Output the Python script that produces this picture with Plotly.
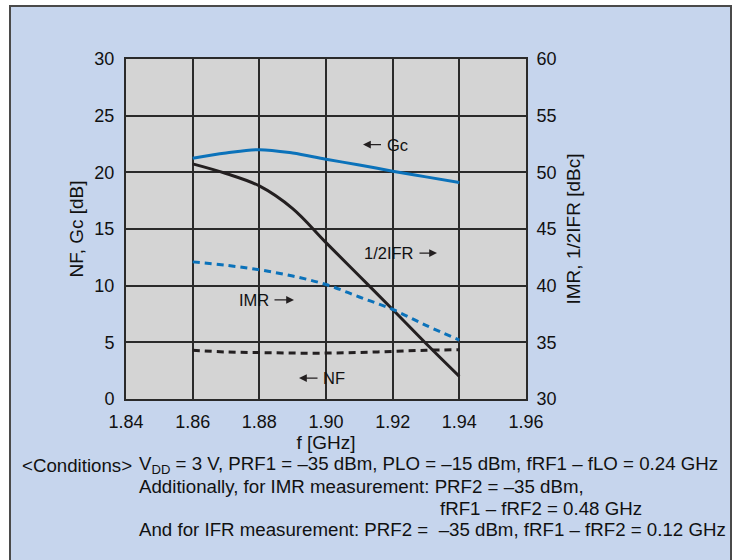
import plotly.graph_objects as go

freq = [1.86, 1.87, 1.88, 1.89, 1.90, 1.91, 1.92, 1.93, 1.94]
gc = [21.25, 21.7, 22.0, 21.7, 21.15, 20.65, 20.1, 19.6, 19.1]
nf = [4.3, 4.15, 4.1, 4.05, 4.05, 4.1, 4.2, 4.3, 4.35]
ifr_half = [50.75, 49.9, 48.8, 46.8, 43.8, 40.85, 37.9, 34.9, 32.0]
imr = [42.1, 41.8, 41.4, 40.85, 40.1, 39.0, 37.9, 36.5, 35.2]

x_ticks = [1.84, 1.86, 1.88, 1.90, 1.92, 1.94, 1.96]

BLUE = "#0B72BA"
BLACK = "#231F20"
GRID = "#2a2a2a"
BG = "#C6D5ED"
PLOTBG = "#D4D4D4"
FONT = "Liberation Sans, Arial, Helvetica, sans-serif"
TXT = "#111"

# plot area in pixels
L, R, T, B = 126, 526, 59, 399
W, H = 740, 560


def px(x):
    return (x - L) / (R - L)


def py(y):
    return (B - y) / (B - T)


fig = go.Figure()
fig.add_trace(go.Scatter(x=freq, y=gc, mode="lines", line=dict(color=BLUE, width=3, shape="spline"),
                         yaxis="y", showlegend=False))
fig.add_trace(go.Scatter(x=freq, y=nf, mode="lines", line=dict(color=BLACK, width=3, dash="7px,5px", shape="spline"),
                         yaxis="y", showlegend=False))
fig.add_trace(go.Scatter(x=freq, y=ifr_half, mode="lines", line=dict(color=BLACK, width=3, shape="spline"),
                         yaxis="y2", showlegend=False))
fig.add_trace(go.Scatter(x=freq, y=imr, mode="lines", line=dict(color=BLUE, width=3, dash="7px,5px", shape="spline"),
                         yaxis="y2", showlegend=False))

tick_font = dict(family=FONT, size=18, color=TXT)
title_font = dict(family=FONT, size=19, color=TXT)

fig.update_layout(
    width=W, height=H,
    margin=dict(l=L, r=W - R, t=T, b=H - B),
    paper_bgcolor=BG, plot_bgcolor=PLOTBG,
    font=dict(family=FONT, color=TXT),
    xaxis=dict(range=[1.84, 1.96], tickvals=x_ticks, ticktext=[f"{v:.2f}" for v in x_ticks],
               showgrid=True, gridcolor=GRID, gridwidth=1.5, zeroline=False,
               showline=True, linecolor=GRID, linewidth=2, mirror=True,
               ticks="outside", ticklen=5, tickcolor="rgba(0,0,0,0)", tickfont=tick_font,
               title=dict(text="f [GHz]", font=title_font, standoff=2)),
    yaxis=dict(range=[0, 30], dtick=5, showgrid=True, gridcolor=GRID, gridwidth=1.5, zeroline=False,
               showline=True, linecolor=GRID, linewidth=2, mirror=True,
               ticks="outside", ticklen=6, tickcolor="rgba(0,0,0,0)", tickfont=tick_font,
               title=dict(text="NF, Gc [dB]", font=title_font, standoff=6)),
    yaxis2=dict(range=[30, 60], dtick=5, overlaying="y", side="right", showgrid=False, zeroline=False,
                showline=False, ticks="outside", ticklen=6, tickcolor="rgba(0,0,0,0)", tickfont=tick_font,
                title=dict(text="IMR, 1/2IFR [dBc]", font=title_font, standoff=11)),
)

# frame around figure (white outside strips + border)
shapes = [
    dict(type="rect", xref="paper", yref="paper", x0=px(-5), x1=px(10), y0=py(570), y1=py(-5),
         fillcolor="white", line=dict(width=0), layer="below"),
    dict(type="rect", xref="paper", yref="paper", x0=px(-5), x1=px(745), y0=py(6), y1=py(-5),
         fillcolor="white", line=dict(width=0), layer="below"),
    dict(type="rect", xref="paper", yref="paper", x0=px(731), x1=px(745), y0=py(570), y1=py(-5),
         fillcolor="white", line=dict(width=0), layer="below"),
    dict(type="rect", xref="paper", yref="paper", x0=px(10), x1=px(731), y0=py(575), y1=py(6),
         line=dict(color="#4a4a4a", width=2), layer="above"),
]
fig.update_layout(shapes=shapes)

ann_font = dict(family=FONT, size=16.5, color=TXT)
arrow = dict(showarrow=True, arrowhead=2, arrowsize=1.2, arrowwidth=1.3, arrowcolor=BLACK,
             startstandoff=4, axref="x", ayref="y", xref="x", yref="y", font=ann_font)
fig.add_annotation(text="Gc", x=1.9111, y=22.45, ax=1.9213, ay=22.45, **arrow)
fig.add_annotation(text="1/2IFR", x=1.9333, y=12.88, ax=1.9189, ay=12.88, **arrow)
fig.add_annotation(text="IMR", x=1.8904, y=8.74, ax=1.8784, ay=8.74, **arrow)
fig.add_annotation(text="NF", x=1.8919, y=1.85, ax=1.9024, ay=1.85, **arrow)

cond_font = dict(family=FONT, size=18.7, color=TXT)
cond_lines = [
    (20, 465, "&lt;Conditions&gt;"),
    (137, 465, "V<sub>DD</sub> = 3 V, PRF1 = –35 dBm, PLO = –15 dBm, fRF1 – fLO = 0.24 GHz"),
    (137, 486, "Additionally, for IMR measurement: PRF2 = –35 dBm,"),
    (438, 508, "fRF1 – fRF2 = 0.48 GHz"),
    (137, 529, "And for IFR measurement: PRF2 =\u00a0 –35 dBm, fRF1 – fRF2 = 0.12 GHz"),
]
for xp, yp, t in cond_lines:
    fig.add_annotation(text=t, xref="paper", yref="paper", x=px(xp), y=py(yp), xanchor="left",
                       yanchor="middle", showarrow=False, font=cond_font)

fig.write_html("out.html", config={"displayModeBar": False},
               post_script="document.body.style.margin='0';")
